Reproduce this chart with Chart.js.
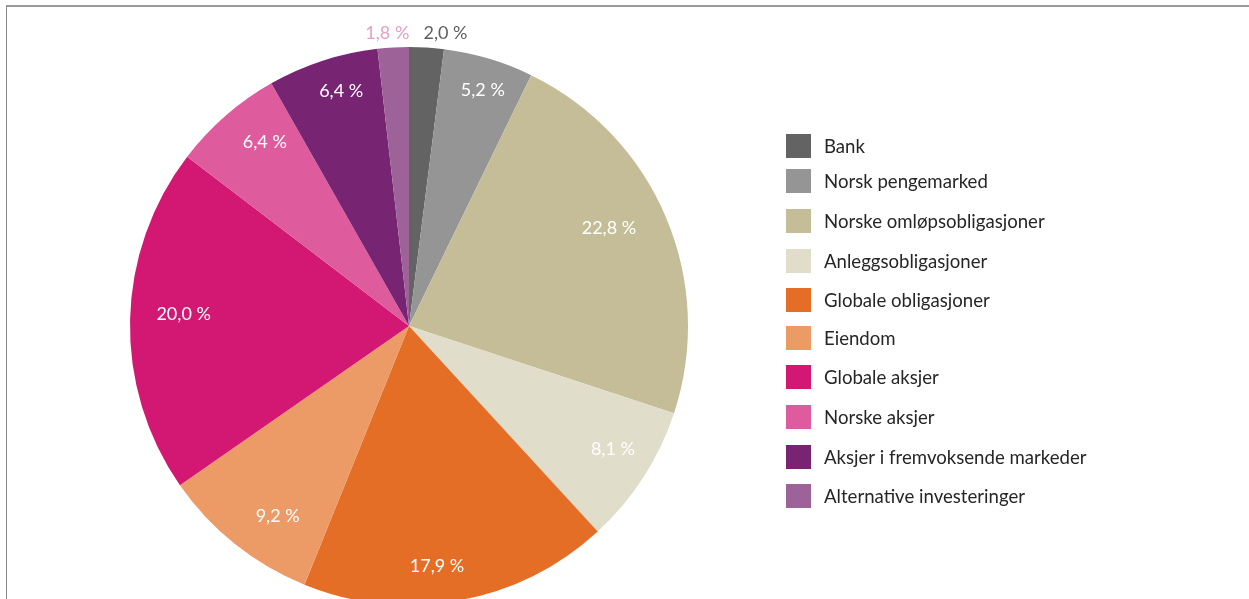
<!DOCTYPE html>
<html>
<head>
<meta charset="utf-8">
<script src="https://cdn.jsdelivr.net/npm/chart.js@4/dist/chart.umd.min.js"></script>
<style>
  html, body { margin: 0; padding: 0; background: #fff; overflow: hidden; width: 1249px; height: 599px; }
  #frame { position: absolute; left: 6px; top: 5px; width: 1400px; height: 800px; border-left: 1px solid #8a8a8a; border-top: 2px solid #9a9a9a; box-sizing: border-box; }
  #wrap { position: absolute; left: 0; top: 0; width: 1249px; height: 650px; }
</style>
</head>
<body>
<div id="frame"></div>
<div id="wrap"><canvas id="c"></canvas></div>
<script>
const categories = [
  'Bank',
  'Norsk pengemarked',
  'Norske omløpsobligasjoner',
  'Anleggsobligasjoner',
  'Globale obligasjoner',
  'Eiendom',
  'Globale aksjer',
  'Norske aksjer',
  'Aksjer i fremvoksende markeder',
  'Alternative investeringer'
];
const values = [2.0, 5.2, 22.8, 8.1, 17.9, 9.2, 20.0, 6.4, 6.4, 1.8];
const valueLabels = ['2,0 %', '5,2 %', '22,8 %', '8,1 %', '17,9 %', '9,2 %', '20,0 %', '6,4 %', '6,4 %', '1,8 %'];
const colors = ['#636363', '#959595', '#c5bd98', '#e0ddca', '#e56e27', '#ec9a66', '#d31874', '#de5c9e', '#772473', '#9d6399'];

const FONT = 'Lato, "Open Sans", sans-serif';

const sliceLabels = {
  id: 'sliceLabels',
  afterDatasetsDraw(chart, args, opts) {
    const ctx = chart.ctx;
    const meta = chart.getDatasetMeta(0);
    ctx.save();
    ctx.font = opts.fontSize + 'px ' + FONT;
    ctx.textAlign = 'center';
    ctx.textBaseline = 'middle';
    meta.data.forEach((arc, i) => {
      const p = arc.getProps(['x', 'y', 'startAngle', 'endAngle', 'outerRadius']);
      const out = opts.outside[i];
      let mid = (p.startAngle + p.endAngle) / 2;
      if (!out) mid += (opts.turn[i] || 0) * Math.PI / 180;
      const f = out ? out.r : opts.radius[i];
      let x = p.x + Math.cos(mid) * p.outerRadius * f;
      let y = p.y + Math.sin(mid) * p.outerRadius * f;
      if (out) { x += out.dx; ctx.fillStyle = out.color; } else { ctx.fillStyle = '#ffffff'; }
      ctx.fillText(valueLabels[i], x, y + 1);
    });
    ctx.restore();
  }
};

const sideLegend = {
  id: 'sideLegend',
  afterDraw(chart, args, opts) {
    const ctx = chart.ctx;
    ctx.save();
    ctx.font = opts.fontSize + 'px ' + FONT;
    ctx.textBaseline = 'middle';
    ctx.textAlign = 'left';
    categories.forEach((name, i) => {
      const yc = opts.rows[i];
      ctx.fillStyle = colors[i];
      ctx.fillRect(opts.x, yc - 12, 25, 24);
      ctx.fillStyle = '#262626';
      ctx.fillText(name, opts.x + 38, yc + 1);
    });
    ctx.restore();
  }
};

new Chart(document.getElementById('c'), {
  type: 'pie',
  data: {
    labels: categories,
    datasets: [{
      data: values,
      backgroundColor: colors,
      borderWidth: 0,
      hoverOffset: 0
    }]
  },
  options: {
    responsive: true,
    maintainAspectRatio: false,
    animation: false,
    events: [],
    layout: { padding: { left: 130, top: 47, right: 561, bottom: 45 } },
    plugins: {
      legend: { display: false },
      tooltip: { enabled: false },
      sliceLabels: {
        fontSize: 18,
        radius: [1, 0.89, 0.80, 0.852, 0.862, 0.825, 0.809, 0.839, 0.88, 1],
        turn:   [0, 0.7, -3.5, -1.9, 3.6, -3.8, 1.9, 3.1, 2.0, 0],
        outside: {
          0: { r: 1.055, dx: 18, color: '#5f5f5f' },
          9: { r: 1.055, dx: -5, color: '#e49fc6' }
        }
      },
      sideLegend: {
        fontSize: 18.6,
        x: 786,
        rows: [146, 181, 221, 261, 300, 338, 377, 417, 457, 496]
      }
    }
  },
  plugins: [sliceLabels, sideLegend]
});
</script>
</body>
</html>
